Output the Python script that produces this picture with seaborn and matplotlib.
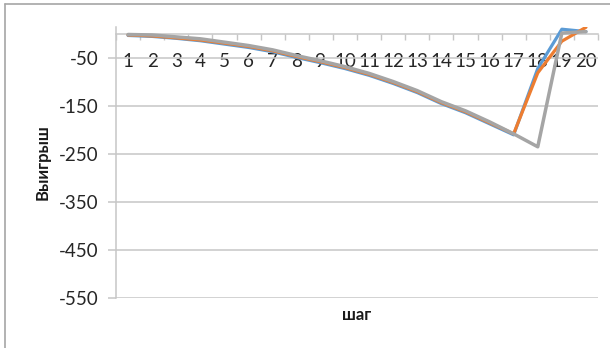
import matplotlib
matplotlib.use("Agg")
import matplotlib.pyplot as plt
from matplotlib.lines import Line2D
import numpy as np
import pandas as pd
import seaborn as sns

# Payoff per step for three runs
steps = list(range(1, 21))
series_names = ["Ряд1", "Ряд2", "Ряд3"]
run1 = [-3, -5, -9, -14, -21, -28, -37, -49, -60, -72, -86, -103, -122, -145, -164, -187, -210, -72, 10, 5]
run2 = [-2, -4, -8, -12.5, -19, -26, -35, -47, -58, -70, -84, -101, -120, -143, -162, -185, -208, -81, -15, 14]
run3 = [-1, -2, -6, -10, -17, -24, -33, -45, -56, -68, -82, -99, -118, -141, -160, -183, -208, -235, 2, 5]
y_ticks = [-550, -450, -350, -250, -150, -50]
x_title = "шаг"
y_title = "Выигрыш"

palette = {"Ряд1": "#5B9BD5", "Ряд2": "#ED7D31", "Ряд3": "#A5A5A5"}

df = pd.DataFrame({
    "шаг": steps * 3,
    "Выигрыш": run1 + run2 + run3,
    "ряд": [series_names[0]] * 20 + [series_names[1]] * 20 + [series_names[2]] * 20,
})

sns.set_theme(style="white")
plt.rcParams["font.family"] = ["Lato", "Open Sans", "DejaVu Sans"]
plt.rcParams["axes.unicode_minus"] = False

fig = plt.figure(figsize=(6.10, 3.48), dpi=100)
ax = fig.add_axes([116 / 610, 50 / 348, 482 / 610, 271 / 348])

sns.lineplot(data=df, x="шаг", y="Выигрыш", hue="ряд", palette=palette,
             linewidth=2.3, legend=False, ax=ax, zorder=3)
ax.lines[2].set_linewidth(2.5)

grid_c = "#C6C6C6"
ax.set_xlim(0.5, 20.5)
ax.set_ylim(-550, 14.6)

# horizontal gridlines
ax.set_yticks(y_ticks)
for v in y_ticks:
    ax.axhline(v, color=grid_c, lw=1.1, zorder=1)

# category axis crossing at zero
ax.spines["top"].set_visible(False)
ax.spines["right"].set_visible(False)
ax.spines["bottom"].set_position(("data", 0))
ax.spines["bottom"].set_color(grid_c)
ax.spines["bottom"].set_linewidth(1.1)
ax.spines["left"].set_color(grid_c)
ax.spines["left"].set_linewidth(1.1)

ax.set_xticks(steps)
ax.set_xticklabels([str(s) for s in steps])
ax.set_xticks(np.arange(0.5, 21, 1.0), minor=True)
ax.tick_params(axis="x", which="major", length=0, pad=14, labelsize=13.5, labelcolor="#262626")
ax.tick_params(axis="x", which="minor", length=4.5, width=1.0, color=grid_c, direction="out", bottom=True)
ax.tick_params(axis="y", which="major", length=5.5, width=1.1, color=grid_c, direction="out",
               pad=7, labelsize=13.5, labelcolor="#262626", left=True)

ax.set_xlabel("")
ax.set_ylabel("")
fig.text(357 / 610, 1 - 315 / 348, x_title, ha="center", va="center",
         fontsize=12, fontweight="bold", color="#1a1a1a")
fig.text(43 / 610, 1 - 162 / 348, y_title, ha="center", va="center", rotation=90,
         fontsize=12, fontweight="bold", color="#1a1a1a")

# chart frame
fig.add_artist(Line2D([5 / 610, 1.0], [1 - 4 / 348, 1 - 4 / 348], transform=fig.transFigure,
                      color="#A6A6A6", lw=1.2))
fig.add_artist(Line2D([5 / 610, 5 / 610], [0.0, 1 - 4 / 348], transform=fig.transFigure,
                      color="#A6A6A6", lw=1.2))

fig.savefig("out.png", dpi=100)
